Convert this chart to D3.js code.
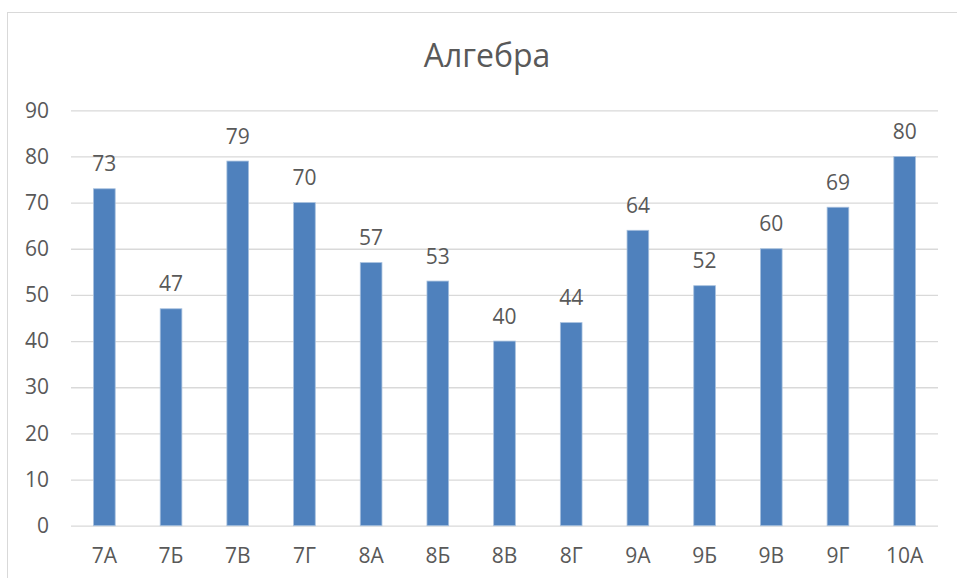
<!DOCTYPE html>
<html>
<head>
<meta charset="utf-8">
<script src="https://cdn.jsdelivr.net/npm/d3@7"></script>
<style>
  html, body { margin: 0; padding: 0; background: #fff; }
  svg text { font-family: "Open Sans", sans-serif; fill: #595959; }
</style>
</head>
<body>
<div class="container"></div>
<script>
const classes = ["7А", "7Б", "7В", "7Г", "8А", "8Б", "8В", "8Г", "9А", "9Б", "9В", "9Г", "10А"];
const scores = [73, 47, 79, 70, 57, 53, 40, 44, 64, 52, 60, 69, 80];
const yTicks = [0, 10, 20, 30, 40, 50, 60, 70, 80, 90];
const title = "Алгебра";

const width = 957;
const height = 578;
const plot = { left: 71, right: 938, top: 110.3, bottom: 525.7 };
const labelSize = "21px";

let svg = d3.select(".container").append("svg")
  .attr("width", width).attr("height", height);

// chart frame (cut off by the window on the right and bottom)
svg.append("rect")
  .attr("x", 7.5).attr("y", 12.5)
  .attr("width", 1000).attr("height", 600)
  .attr("fill", "none")
  .attr("stroke", "#d9d9d9");

svg.append("text")
  .attr("x", 487).attr("y", 67)
  .attr("text-anchor", "middle")
  .style("font-size", "32px")
  .text(title);

// Scales
let xScale = d3.scaleBand(classes, [plot.left, plot.right])
  .paddingInner(0.675)
  .paddingOuter(0.3375);

let yScale = d3.scaleLinear([0, 90], [plot.bottom, plot.top]);

// Axes
let yAxis = d3.axisLeft(yScale)
  .tickValues(yTicks)
  .tickSize(-(plot.right - plot.left))
  .tickPadding(22);

let gy = svg.append("g").attr("transform", `translate(${plot.left}, 0)`);
yAxis(gy);
gy.select(".domain").remove();
gy.selectAll("line").attr("stroke", "#d9d9d9").attr("stroke-width", 1.3);
gy.selectAll("text").style("font-size", labelSize).attr("fill", "#595959");

let xAxis = d3.axisBottom(xScale).tickSize(0).tickPadding(22.5);
let gx = svg.append("g").attr("transform", `translate(0, ${plot.bottom})`);
xAxis(gx);
gx.select(".domain").remove();
gx.selectAll("text").style("font-size", labelSize).attr("fill", "#595959");

// Bars
svg.append("g").selectAll("rect")
  .data(scores).enter().append("rect")
  .attr("x", (d, i) => xScale(classes[i]))
  .attr("y", (d) => yScale(d))
  .attr("width", xScale.bandwidth())
  .attr("height", (d) => yScale(0) - yScale(d))
  .attr("fill", "#4f81bd")
  .attr("stroke", "#a7c0de")
  .attr("stroke-width", 0.8);

// Data labels
svg.append("g").selectAll("text")
  .data(scores).enter().append("text")
  .attr("x", (d, i) => xScale(classes[i]) + xScale.bandwidth() / 2)
  .attr("y", (d) => yScale(d) - 17.5)
  .attr("text-anchor", "middle")
  .style("font-size", labelSize)
  .text((d) => d);
</script>
</body>
</html>
